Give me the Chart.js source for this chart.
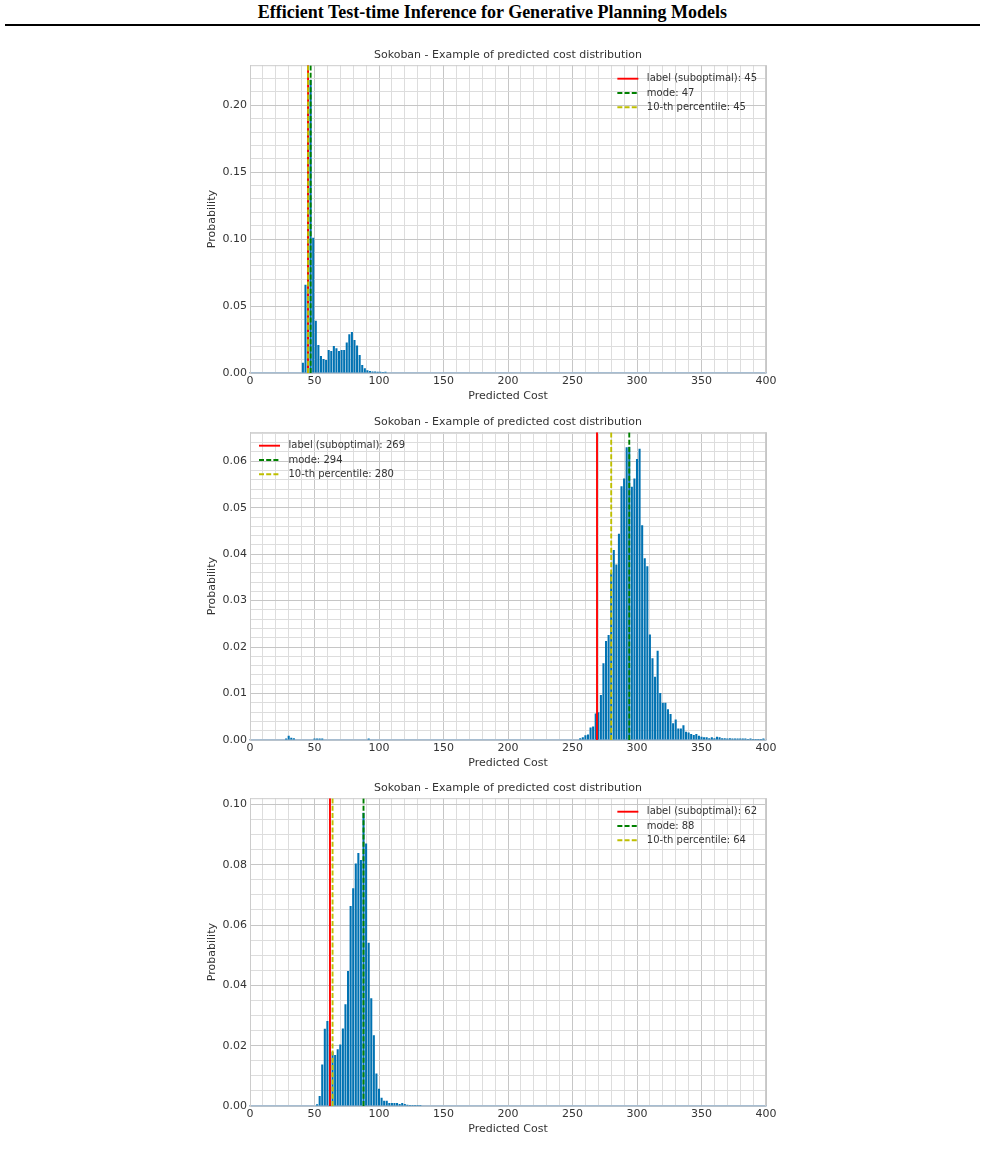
<!DOCTYPE html>
<html>
<head>
<meta charset="utf-8">
<script src="https://cdn.jsdelivr.net/npm/chart.js@4.4.1/dist/chart.umd.min.js"></script>
<style>
html,body{margin:0;padding:0;background:#fff;}
body{width:985px;height:1157px;overflow:hidden;position:relative;}
#hdr{position:absolute;left:0;top:2px;width:985px;text-align:center;font:bold 18px "Liberation Serif","Times New Roman",serif;color:#000;}
#rule{position:absolute;left:5px;top:24px;width:975px;height:2px;background:#000;}
canvas{position:absolute;left:196px;}
</style>
</head>
<body>
<div id="hdr">Efficient Test-time Inference for Generative Planning Models</div>
<div id="rule"></div>
<canvas id="c1" width="594" height="356" style="top:47px"></canvas>
<canvas id="c2" width="594" height="356" style="top:414px"></canvas>
<canvas id="c3" width="594" height="356" style="top:780px"></canvas>
<script>
// ---------------- shared labels ----------------
const TITLE = 'Sokoban - Example of predicted cost distribution';
const X_LABEL = 'Predicted Cost';
const Y_LABEL = 'Probability';
const X_TICKS = [0, 50, 100, 150, 200, 250, 300, 350, 400];

// ---------------- example 1 ----------------
const cost1 = [41,43,45,47,49,51,53,55,57,59,61,63,65,67,69,71,73,75,77,79,81,83,85,87,89,91,93,95,97,99,101,103,105];
const prob1 = [0.0077,0.066,0.200,0.219,0.101,0.039,0.021,0.0127,0.0105,0.0097,0.0172,0.0165,0.0202,0.0185,0.0165,0.0172,0.0172,0.0227,0.029,0.0307,0.0247,0.0205,0.0135,0.006,0.0035,0.002,0.0015,0.0012,0.0012,0.001,0.001,0.0008,0.001];
const Y_TICKS1 = [0, 0.05, 0.10, 0.15, 0.20];
const labelCost1 = 45, modeCost1 = 47, pctCost1 = 45;

// ---------------- example 2 ----------------
const cost2 = [28,30,32,34,50,52,54,56,92,
  256,258,260,262,264,266,268,270,272,274,276,278,280,282,284,286,288,290,292,294,296,298,300,302,304,306,308,310,
  312,314,316,318,320,322,324,326,328,330,332,334,336,338,340,342,344,346,348,350,352,354,356,358,360,362,364,366,
  368,370,372,374,376,378,380,382,384,386,388,390,392,394,396,398];
const prob2 = [0.0003,0.0009,0.0005,0.0004,0.0003,0.0003,0.0003,0.0003,0.0003,
  0.0004,0.0006,0.001,0.0012,0.0027,0.0029,0.0057,0.006,0.0097,0.0165,0.0213,0.0226,0.036,0.0409,0.0378,0.0444,0.0546,0.0563,0.063,0.0631,0.0545,0.0563,0.0605,0.0627,0.0462,0.0391,0.0374,0.0227,
  0.0176,0.0136,0.0192,0.0101,0.008,0.008,0.0066,0.0056,0.0036,0.0044,0.0025,0.0025,0.0032,0.0018,0.0016,0.0013,0.0011,0.0013,0.0009,0.0007,0.0006,0.0006,0.0004,0.0006,0.0004,0.0007,0.0006,0.0004,
  0.0004,0.0003,0.0004,0.0003,0.0003,0.0003,0.0003,0.0003,0.0003,0.0002,0.0003,0.0002,0.0002,0.0002,0.0002,0.0003];
const Y_TICKS2 = [0, 0.01, 0.02, 0.03, 0.04, 0.05, 0.06];
const labelCost2 = 269, modeCost2 = 294, pctCost2 = 280;

// ---------------- example 3 ----------------
const cost3 = [52,54,56,58,60,62,64,66,68,70,72,74,76,78,80,82,84,86,88,90,92,94,96,98,100,102,104,106,108,110,112,114,116,118,120,122,124,126,128,130,132];
const prob3 = [0.0006,0.0033,0.0138,0.0256,0.0282,0.024,0.018,0.0169,0.0188,0.0204,0.0257,0.0337,0.0448,0.0663,0.0722,0.0804,0.0839,0.0816,0.0972,0.087,0.0541,0.0357,0.0235,0.0108,0.0057,0.0027,0.0017,0.0017,0.001,0.001,0.001,0.001,0.0007,0.001,0.0007,0.0004,0.0003,0.0003,0.0003,0.0003,0.0003];
const Y_TICKS3 = [0, 0.02, 0.04, 0.06, 0.08, 0.10];
const labelCost3 = 62, modeCost3 = 88, pctCost3 = 64;

// ---------------- styling ----------------
const FONT = 'DejaVu Sans';
const TXT = '#333333';
const BAR = '#0072B2';
const GRID_MAJOR = '#c6c6c6';
const GRID_MINOR = '#dddddd';
const LINE_W = 1.9;
const DASH = [5, 2.2];

const frameAndLegend = {
  id: 'frameAndLegend',
  beforeDatasetsDraw(chart) {
    const {ctx, chartArea: a} = chart;
    ctx.save();
    ctx.strokeStyle = '#cccccc';
    ctx.lineWidth = 1;
    ctx.beginPath();
    ctx.moveTo(a.left, a.top + 0.5); ctx.lineTo(a.right, a.top + 0.5);
    ctx.moveTo(a.right - 0.5, a.top); ctx.lineTo(a.right - 0.5, a.bottom);
    ctx.stroke();
    ctx.restore();
  },
  afterDatasetsDraw(chart, args, opts) {
    const {ctx, chartArea: a} = chart;
    const items = chart.data.datasets.filter(d => d.type === 'line');
    ctx.save();
    ctx.font = '10px "' + FONT + '"';
    const lineLen = 21, gap = 8.5, rowH = 14.3;
    const textW = Math.max(...items.map(d => ctx.measureText(d.label).width));
    const x0 = opts.side === 'right' ? a.right - 9 - textW - gap - lineLen : a.left + 9;
    items.forEach((d, i) => {
      const y = a.top + 13.5 + i * rowH;
      ctx.strokeStyle = d.borderColor;
      ctx.lineWidth = d.borderWidth;
      ctx.setLineDash(d.borderDash || []);
      ctx.beginPath(); ctx.moveTo(x0, y); ctx.lineTo(x0 + lineLen, y); ctx.stroke();
      ctx.setLineDash([]);
      ctx.fillStyle = TXT;
      ctx.textBaseline = 'middle';
      ctx.textAlign = 'left';
      ctx.fillText(d.label, x0 + lineLen + gap, y);
    });
    ctx.restore();
  }
};

function isMajor(v, list) { return list.some(t => Math.abs(t - v) < 1e-9); }

function makeChart(id, costs, probs, yTicks, yStep, labelC, modeC, pctC, legendSide) {
  const yMax = Math.max(...probs) * 1.05;
  const vline = (x) => [{x: x, y: 0}, {x: x, y: yMax}];
  new Chart(document.getElementById(id), {
    type: 'bar',
    data: {
      datasets: [
        { type: 'bar', label: 'hist', data: costs.map((c, i) => ({x: c, y: probs[i]})),
          backgroundColor: BAR, borderWidth: 0, barPercentage: 0.8, categoryPercentage: 1.0, order: 4 },
        { type: 'line', label: 'label (suboptimal): ' + labelC, data: vline(labelC),
          borderColor: '#ff0000', borderWidth: LINE_W, pointRadius: 0, order: 3 },
        { type: 'line', label: 'mode: ' + modeC, data: vline(modeC),
          borderColor: '#008000', borderWidth: LINE_W, borderDash: DASH, pointRadius: 0, order: 2 },
        { type: 'line', label: '10-th percentile: ' + pctC, data: vline(pctC),
          borderColor: '#bfbf00', borderWidth: LINE_W, borderDash: DASH, pointRadius: 0, order: 1 }
      ]
    },
    options: {
      responsive: false,
      animation: false,
      devicePixelRatio: 1,
      layout: { padding: { left: 0, right: 24, top: 0, bottom: 0 } },
      plugins: {
        legend: { display: false },
        tooltip: { enabled: false },
        title: { display: true, text: TITLE, color: TXT, fullSize: false,
          font: { family: FONT, size: 11, weight: 'normal' }, padding: { top: 2, bottom: 3 } },
        frameAndLegend: { side: legendSide }
      },
      scales: {
        x: {
          type: 'linear', min: 0, max: 400, offset: false,
          afterFit: s => { s.height = 30; },
          ticks: { stepSize: 10, autoSkip: false, maxRotation: 0, padding: 2, color: TXT,
            font: { family: FONT, size: 11 }, includeBounds: false,
            callback: v => (isMajor(v, X_TICKS) ? String(Math.round(v)) : '') },
          grid: { offset: false, drawTicks: false, lineWidth: 1,
            color: c => (c.tick && isMajor(c.tick.value, X_TICKS) ? GRID_MAJOR : GRID_MINOR) },
          border: { color: '#a7bdd1', width: 1.5 },
          title: { display: true, text: X_LABEL, color: TXT, font: { family: FONT, size: 11 },
            padding: { top: 0, bottom: 0.7 } }
        },
        y: {
          type: 'linear', min: 0, max: yMax,
          afterFit: s => { s.width = 54; },
          ticks: { stepSize: yStep, autoSkip: false, padding: 3, color: TXT, includeBounds: false,
            font: { family: FONT, size: 11 },
            callback: v => (isMajor(v, yTicks) ? Number(v).toFixed(2) : '') },
          grid: { drawTicks: false, lineWidth: 1,
            color: c => (c.tick && isMajor(c.tick.value, yTicks) ? GRID_MAJOR : GRID_MINOR) },
          border: { color: '#cccccc', width: 1 },
          title: { display: true, text: Y_LABEL, color: TXT, font: { family: FONT, size: 11 },
            padding: { top: 9.4, bottom: 0 } }
        }
      }
    },
    plugins: [frameAndLegend]
  });
}

makeChart('c1', cost1, prob1, Y_TICKS1, 0.01, labelCost1, modeCost1, pctCost1, 'right');
makeChart('c2', cost2, prob2, Y_TICKS2, 0.002, labelCost2, modeCost2, pctCost2, 'left');
makeChart('c3', cost3, prob3, Y_TICKS3, 0.005, labelCost3, modeCost3, pctCost3, 'right');
</script>
</body>
</html>
